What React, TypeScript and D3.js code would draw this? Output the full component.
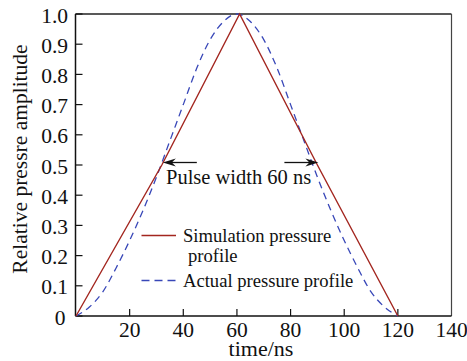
import React from "react";
import * as d3 from "d3";

// Simulated pressure profile (piecewise linear)
const simTime = [0, 32, 61, 90, 120];
const simAmp = [0, 0.5, 1.0, 0.5, 0];

// Measured pressure profile
const actTime = [0, 5, 10, 15, 20, 25, 30, 35, 40, 45, 50, 55, 60, 65, 70, 75, 80, 85, 90, 95, 100, 105, 110, 115, 120];
const actAmp = [0, 0.03, 0.08, 0.16, 0.25, 0.35, 0.46, 0.58, 0.7, 0.82, 0.915, 0.975, 1.0, 0.975, 0.915, 0.82, 0.7, 0.58, 0.46, 0.35, 0.25, 0.16, 0.08, 0.03, 0];

const xTicks = [20, 40, 60, 80, 100, 120, 140];
const yTicks = [0, 0.1, 0.2, 0.3, 0.4, 0.5, 0.6, 0.7, 0.8, 0.9, 1.0];

const legendLabels = ["Simulation pressure", "profile", "Actual pressure profile"];
const annotation = "Pulse width 60 ns";
const pulseEdges = [32, 90];

const W = 467;
const H = 361;
const plot = { left: 75.5, right: 451.5, top: 14, bottom: 316 };
const RED = "#a3261f";
const BLUE = "#3847b8";
const FONT = "'Liberation Serif', 'Times New Roman', serif";

export default function App() {
  const x = d3.scaleLinear().domain([0, 140]).range([plot.left + 0.5, plot.right]);
  const y = d3.scaleLinear().domain([0, 1]).range([plot.bottom, plot.top]);

  const simLine = d3
    .line<number>()
    .x((_, i) => x(simTime[i]))
    .y((d) => y(d))
    .curve(d3.curveLinear);
  const actLine = d3
    .line<number>()
    .x((_, i) => x(actTime[i]))
    .y((d) => y(d))
    .curve(d3.curveMonotoneX);

  const halfY = y(0.5) - 2.5;
  const leftTip = x(pulseEdges[0]) + 1;
  const rightTip = x(pulseEdges[1]) + 1;
  const arrowLen = 34;

  const headLeft = (tx: number, ty: number) =>
    `M${tx},${ty} L${tx + 13},${ty - 4} L${tx + 9},${ty} L${tx + 13},${ty + 4} Z`;
  const headRight = (tx: number, ty: number) =>
    `M${tx},${ty} L${tx - 13},${ty - 4} L${tx - 9},${ty} L${tx - 13},${ty + 4} Z`;

  return (
    <svg width={W} height={H} style={{ position: "absolute", left: 0, top: 0, background: "#fff" }} fontFamily={FONT}>
      {/* frame */}
      <line x1={plot.left} x2={plot.right} y1={plot.top} y2={plot.top} stroke="#222" strokeWidth={1.4} />
      <line x1={plot.right} x2={plot.right} y1={plot.top} y2={plot.bottom} stroke="#444" strokeWidth={1.2} />
      <line x1={plot.left} x2={plot.left} y1={plot.top} y2={plot.bottom} stroke="#111" strokeWidth={1.5} />
      <line x1={plot.left} x2={plot.right} y1={plot.bottom} y2={plot.bottom} stroke="#111" strokeWidth={1.5} />

      {/* y ticks */}
      {yTicks.map((t) => (
        <g key={"y" + t}>
          <line x1={plot.left} x2={plot.left + 7} y1={y(t)} y2={y(t)} stroke="#111" strokeWidth={1.2} />
          <text x={t === 0 ? 65.5 : 68} y={y(t) + 8.5} textAnchor="end" fontSize={21.5} fill="#111">
            {t === 0 ? "0" : d3.format(".1f")(t)}
          </text>
        </g>
      ))}

      {/* x ticks */}
      {xTicks.map((t) => (
        <g key={"x" + t}>
          {t < 140 && (
            <line x1={x(t)} x2={x(t)} y1={plot.bottom} y2={plot.bottom - 7} stroke="#111" strokeWidth={1.2} />
          )}
          <text x={x(t)} y={337} textAnchor="middle" fontSize={21.5} fill="#111">
            {t}
          </text>
        </g>
      ))}

      {/* axis titles */}
      <text x={261} y={355.5} textAnchor="middle" fontSize={22} fill="#111">
        time/ns
      </text>
      <text
        transform={`translate(26.5,159) rotate(-90)`}
        textAnchor="middle"
        fontSize={21.5}
        fill="#111"
      >
        Relative pressre amplitude
      </text>

      {/* profiles */}
      <path d={actLine(actAmp) || ""} fill="none" stroke={BLUE} strokeWidth={1.3} strokeDasharray="7,5" />
      <path d={simLine(simAmp) || ""} fill="none" stroke={RED} strokeWidth={1.4} />

      {/* pulse width arrows */}
      <line x1={leftTip + 8} x2={leftTip + arrowLen} y1={halfY} y2={halfY} stroke="#111" strokeWidth={1.3} />
      <path d={headLeft(leftTip, halfY)} fill="#111" />
      <line x1={rightTip - arrowLen} x2={rightTip - 8} y1={halfY} y2={halfY} stroke="#111" strokeWidth={1.3} />
      <path d={headRight(rightTip, halfY)} fill="#111" />
      <text x={166} y={184} fontSize={20.5} fill="#111">
        {annotation}
      </text>

      {/* legend */}
      <line x1={141.5} x2={176} y1={235.5} y2={235.5} stroke={RED} strokeWidth={1.4} />
      <text x={183} y={242} fontSize={18.6} fill="#111">
        {legendLabels[0]}
      </text>
      <text x={188} y={262} fontSize={18.6} fill="#111">
        {legendLabels[1]}
      </text>
      <line x1={141.5} x2={176} y1={280.5} y2={280.5} stroke={BLUE} strokeWidth={1.3} strokeDasharray="8,5" />
      <text x={183} y={287} fontSize={18.6} fill="#111">
        {legendLabels[2]}
      </text>
    </svg>
  );
}
